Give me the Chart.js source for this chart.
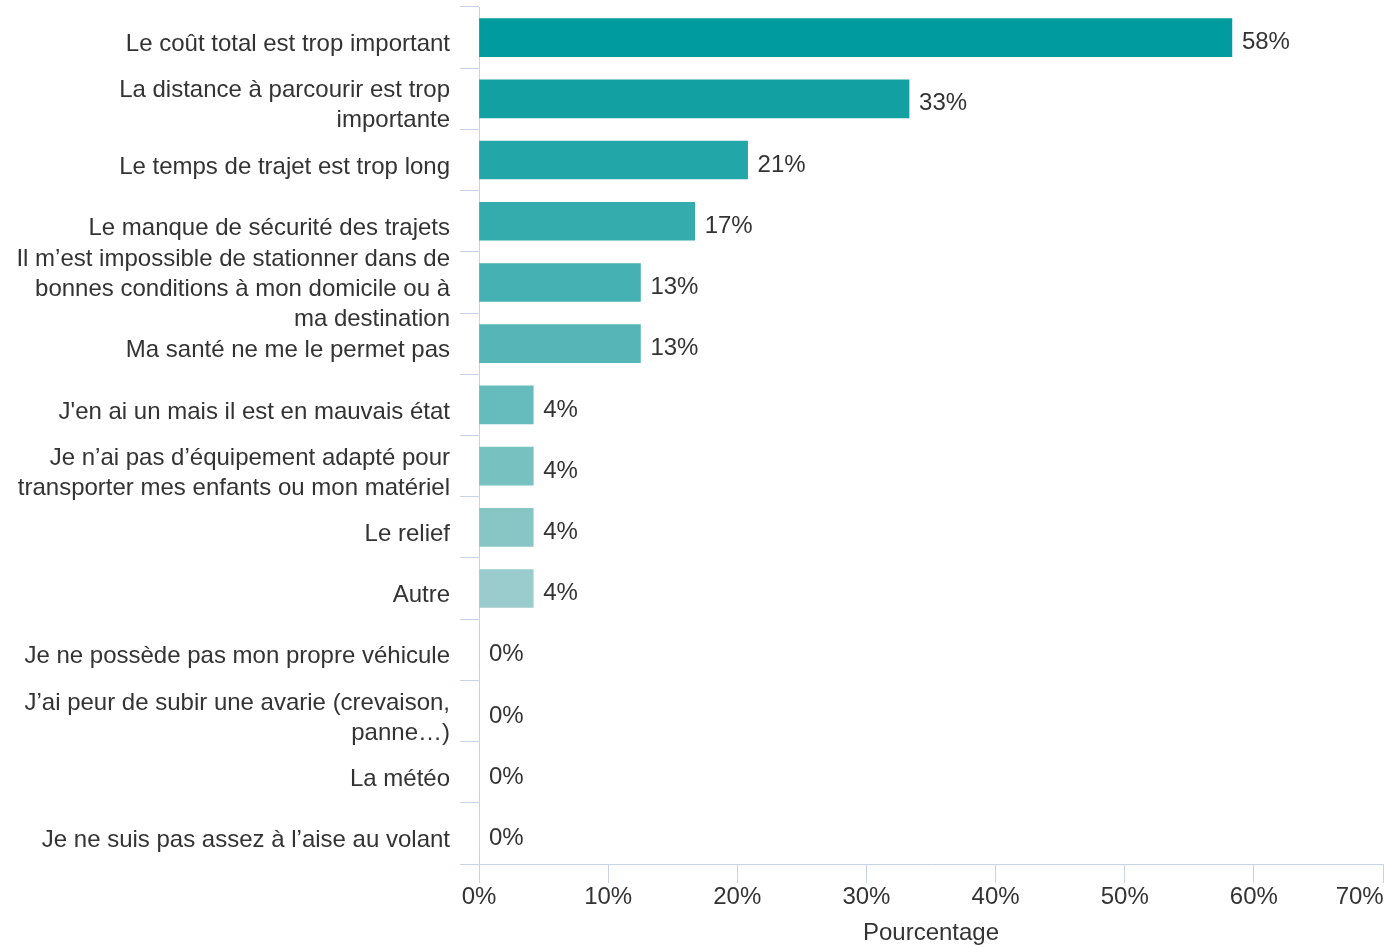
<!DOCTYPE html>
<html>
<head>
<meta charset="utf-8">
<script src="https://cdn.jsdelivr.net/npm/chart.js@4"></script>
<style>
  body { margin: 0; background: #fff; }
  #wrap { width: 1387px; height: 945px; }
</style>
</head>
<body>
<div id="wrap"><canvas id="chart" width="1387" height="945"></canvas></div>
<script>
const categories = [
  'Le coût total est trop important',
  ['La distance à parcourir est trop', 'importante'],
  'Le temps de trajet est trop long',
  'Le manque de sécurité des trajets',
  ['Il m’est impossible de stationner dans de', 'bonnes conditions à mon domicile ou à', 'ma destination'],
  'Ma santé ne me le permet pas',
  "J'en ai un mais il est en mauvais état",
  ['Je n’ai pas d’équipement adapté pour', 'transporter mes enfants ou mon matériel'],
  'Le relief',
  'Autre',
  'Je ne possède pas mon propre véhicule',
  ['J’ai peur de subir une avarie (crevaison,', 'panne…)'],
  'La météo',
  'Je ne suis pas assez à l’aise au volant'
];
const percentages = [58.3, 33.3, 20.8, 16.7, 12.5, 12.5, 4.2, 4.2, 4.2, 4.2, 0, 0, 0, 0];
const barColors = ['#009b9e', '#12a0a3', '#23a6a8', '#34abad', '#45b1b2', '#56b6b7', '#66bbbc', '#77c1c1', '#88c6c6', '#9bcccd',
  '#a8d2d3', '#b4d8d8', '#c0dede', '#cce4e4'];
const xTicks = [0, 10, 20, 30, 40, 50, 60, 70];

const axisColor = '#c8d2ea';
const textColor = '#333333';
const fontFamily = '"Liberation Sans", Arial, sans-serif';

// value labels at the end of each bar
const barLabels = {
  id: 'barLabels',
  afterDatasetsDraw(chart) {
    const ctx = chart.ctx;
    const meta = chart.getDatasetMeta(0);
    ctx.save();
    ctx.font = '24px ' + fontFamily;
    ctx.fillStyle = textColor;
    ctx.textAlign = 'left';
    ctx.textBaseline = 'middle';
    meta.data.forEach((bar, i) => {
      ctx.fillText(Math.round(percentages[i]) + '%', bar.x + 10, bar.y + 5);
    });
    ctx.restore();
  }
};

new Chart(document.getElementById('chart').getContext('2d'), {
  type: 'bar',
  data: {
    labels: categories,
    datasets: [{
      data: percentages,
      backgroundColor: barColors,
      borderWidth: 0,
      barThickness: 38
    }]
  },
  options: {
    indexAxis: 'y',
    responsive: false,
    animation: false,
    layout: { padding: { top: 7, right: 4, left: 0, bottom: 0 } },
    plugins: {
      legend: { display: false },
      tooltip: { enabled: false }
    },
    scales: {
      x: {
        type: 'linear',
        min: 0,
        max: 70,
        afterBuildTicks(scale) {
          scale.ticks = xTicks.map(v => ({ value: v }));
        },
        afterFit(scale) {
          scale.height = 81;
          scale.paddingLeft = 0;
          scale.paddingRight = 0;
        },
        grid: { drawOnChartArea: false, color: axisColor, tickLength: 19 },
        border: { color: axisColor, width: 1 },
        ticks: {
          color: textColor,
          font: { family: fontFamily, size: 24, lineHeight: 1.2 },
          padding: 0,
          maxRotation: 0,
          callback: (v) => v === 70 ? '70%       ' : v + '%'
        },
        title: {
          display: true,
          text: 'Pourcentage',
          color: textColor,
          font: { family: fontFamily, size: 24, lineHeight: 1 },
          padding: { top: 4, bottom: 0 }
        }
      },
      y: {
        afterFit(scale) {
          scale.width = 479;
          scale.paddingTop = 0;
          scale.paddingBottom = 0;
        },
        grid: { drawOnChartArea: false, color: axisColor, tickLength: 19, offset: true },
        border: { color: axisColor, width: 1 },
        ticks: {
          color: textColor,
          font: { family: fontFamily, size: 24, lineHeight: 1.25 },
          padding: 10,
          labelOffset: 7,
          autoSkip: false
        }
      }
    }
  },
  plugins: [barLabels]
});
</script>
</body>
</html>
